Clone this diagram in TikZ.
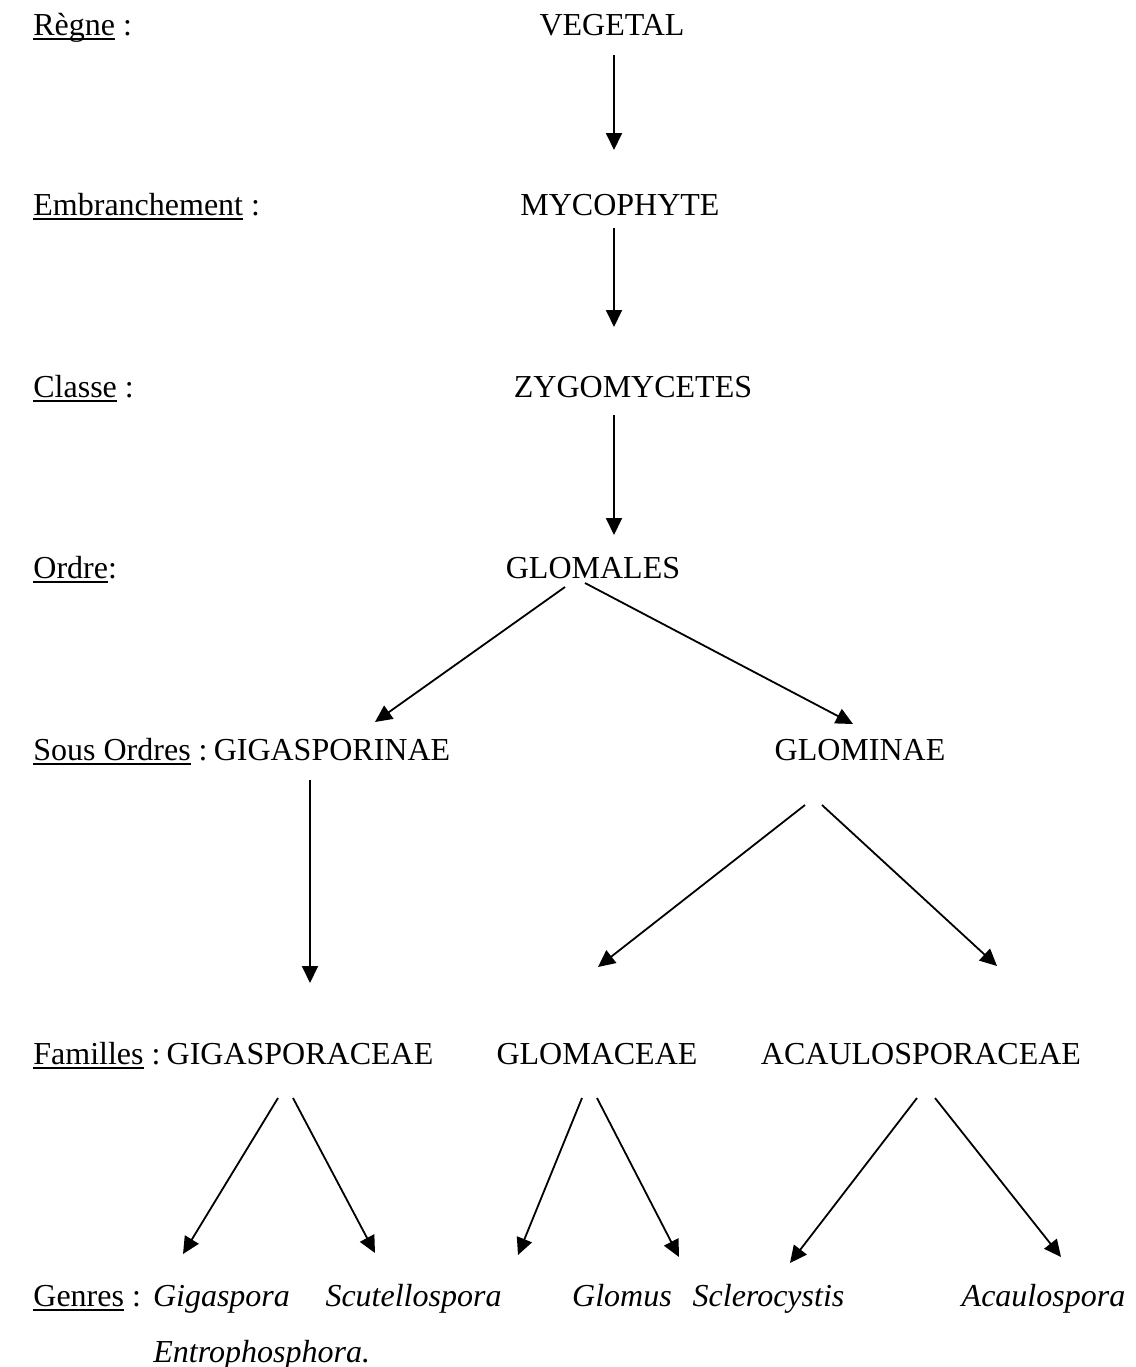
\documentclass[tikz,border=0pt]{standalone}
\usepackage{fontspec}
\setmainfont{Liberation Serif}
\usetikzlibrary{arrows.meta}
\newcommand\ulx[1]{\setbox0\hbox{#1}\rlap{\raisebox{-2.6pt}{\rule{\wd0}{1pt}}}\box0\relax}
\tikzset{
  txt/.style={inner sep=0pt, anchor=base, font=\fontsize{16pt}{19pt}\selectfont},
  lbl/.style={txt, anchor=base west},
  gen/.style={txt, font=\fontsize{16pt}{19pt}\selectfont\itshape},
  arr/.style={line width=0.9pt, -{Triangle[length=8.5pt,width=8pt]}}
}
\begin{document}
\begin{tikzpicture}[x=0.5pt,y=-0.5pt]
\useasboundingbox (0,0) rectangle (1136,1367);
% left labels
\node[lbl] (lr) at (33,35) {\ulx{Règne} :};
\node[lbl] (le) at (33,215) {\ulx{Embranchement} :};
\node[lbl] (lc) at (33,397) {\ulx{Classe} :};
\node[lbl] (lo) at (33,578) {\ulx{Ordre}:};
\node[lbl] (ls) at (33,760) {\ulx{Sous Ordres} :};
\node[lbl] (lf) at (33,1064) {\ulx{Familles} :};
\node[lbl] (lg) at (33,1306) {\ulx{Genres} :};
% taxa
\node[txt] (veg) at (612,35) {VEGETAL};
\node[txt] (myc) at (620,215) {MYCOPHYTE};
\node[txt] (zyg) at (633,397) {ZYGOMYCETES};
\node[txt] (glom) at (593,578) {GLOMALES};
\node[txt] (gigi) at (332,760) {GIGASPORINAE};
\node[txt] (glomi) at (860,760) {GLOMINAE};
\node[txt] (gigac) at (300,1064) {GIGASPORACEAE};
\node[txt] (glomac) at (597,1064) {GLOMACEAE};
\node[txt] (acau) at (921,1064) {ACAULOSPORACEAE};
\node[gen] (giga) at (221.5,1306) {Gigaspora};
\node[gen] (scut) at (413.5,1306) {Scutellospora};
\node[gen] (glomus) at (622,1306) {Glomus};
\node[gen] (scler) at (768.5,1306) {Sclerocystis};
\node[gen] (acaul) at (1043.5,1306) {Acaulospora};
\node[gen, anchor=base west] (entro) at (153,1362) {Entrophosphora.};
% arrows
\draw[arr] ([shift={(2,20)}]veg.base) -- ([shift={(-6,-65)}]myc.base);
\draw[arr] ([shift={(-6,13)}]myc.base) -- ([shift={(-19,-70)}]zyg.base);
\draw[arr] ([shift={(-19,18)}]zyg.base) -- ([shift={(21,-43)}]glom.base);
\draw[arr] ([shift={(-28,9)}]glom.base) -- ([shift={(43,-38)}]gigi.base);
\draw[arr] ([shift={(-8,5)}]glom.base) -- ([shift={(-7,-36)}]glomi.base);
\draw[arr] ([shift={(-22,20)}]gigi.base) -- ([shift={(10,-81)}]gigac.base);
\draw[arr] ([shift={(-55,45)}]glomi.base) -- ([shift={(1,-97)}]glomac.base);
\draw[arr] ([shift={(-38,45)}]glomi.base) -- ([shift={(76,-98)}]acau.base);
\draw[arr] ([shift={(-22,34)}]gigac.base) -- ([shift={(-38.5,-52)}]giga.base);
\draw[arr] ([shift={(-7,34)}]gigac.base) -- ([shift={(-38.5,-53)}]scut.base);
\draw[arr] ([shift={(-15,34)}]glomac.base) -- ([shift={(-104,-51)}]glomus.base);
\draw[arr] ([shift={(0,34)}]glomac.base) -- ([shift={(57,-49)}]glomus.base);
\draw[arr] ([shift={(-4,34)}]acau.base) -- ([shift={(21.5,-43)}]scler.base);
\draw[arr] ([shift={(14,34)}]acau.base) -- ([shift={(17.5,-49)}]acaul.base);
\end{tikzpicture}
\end{document}
